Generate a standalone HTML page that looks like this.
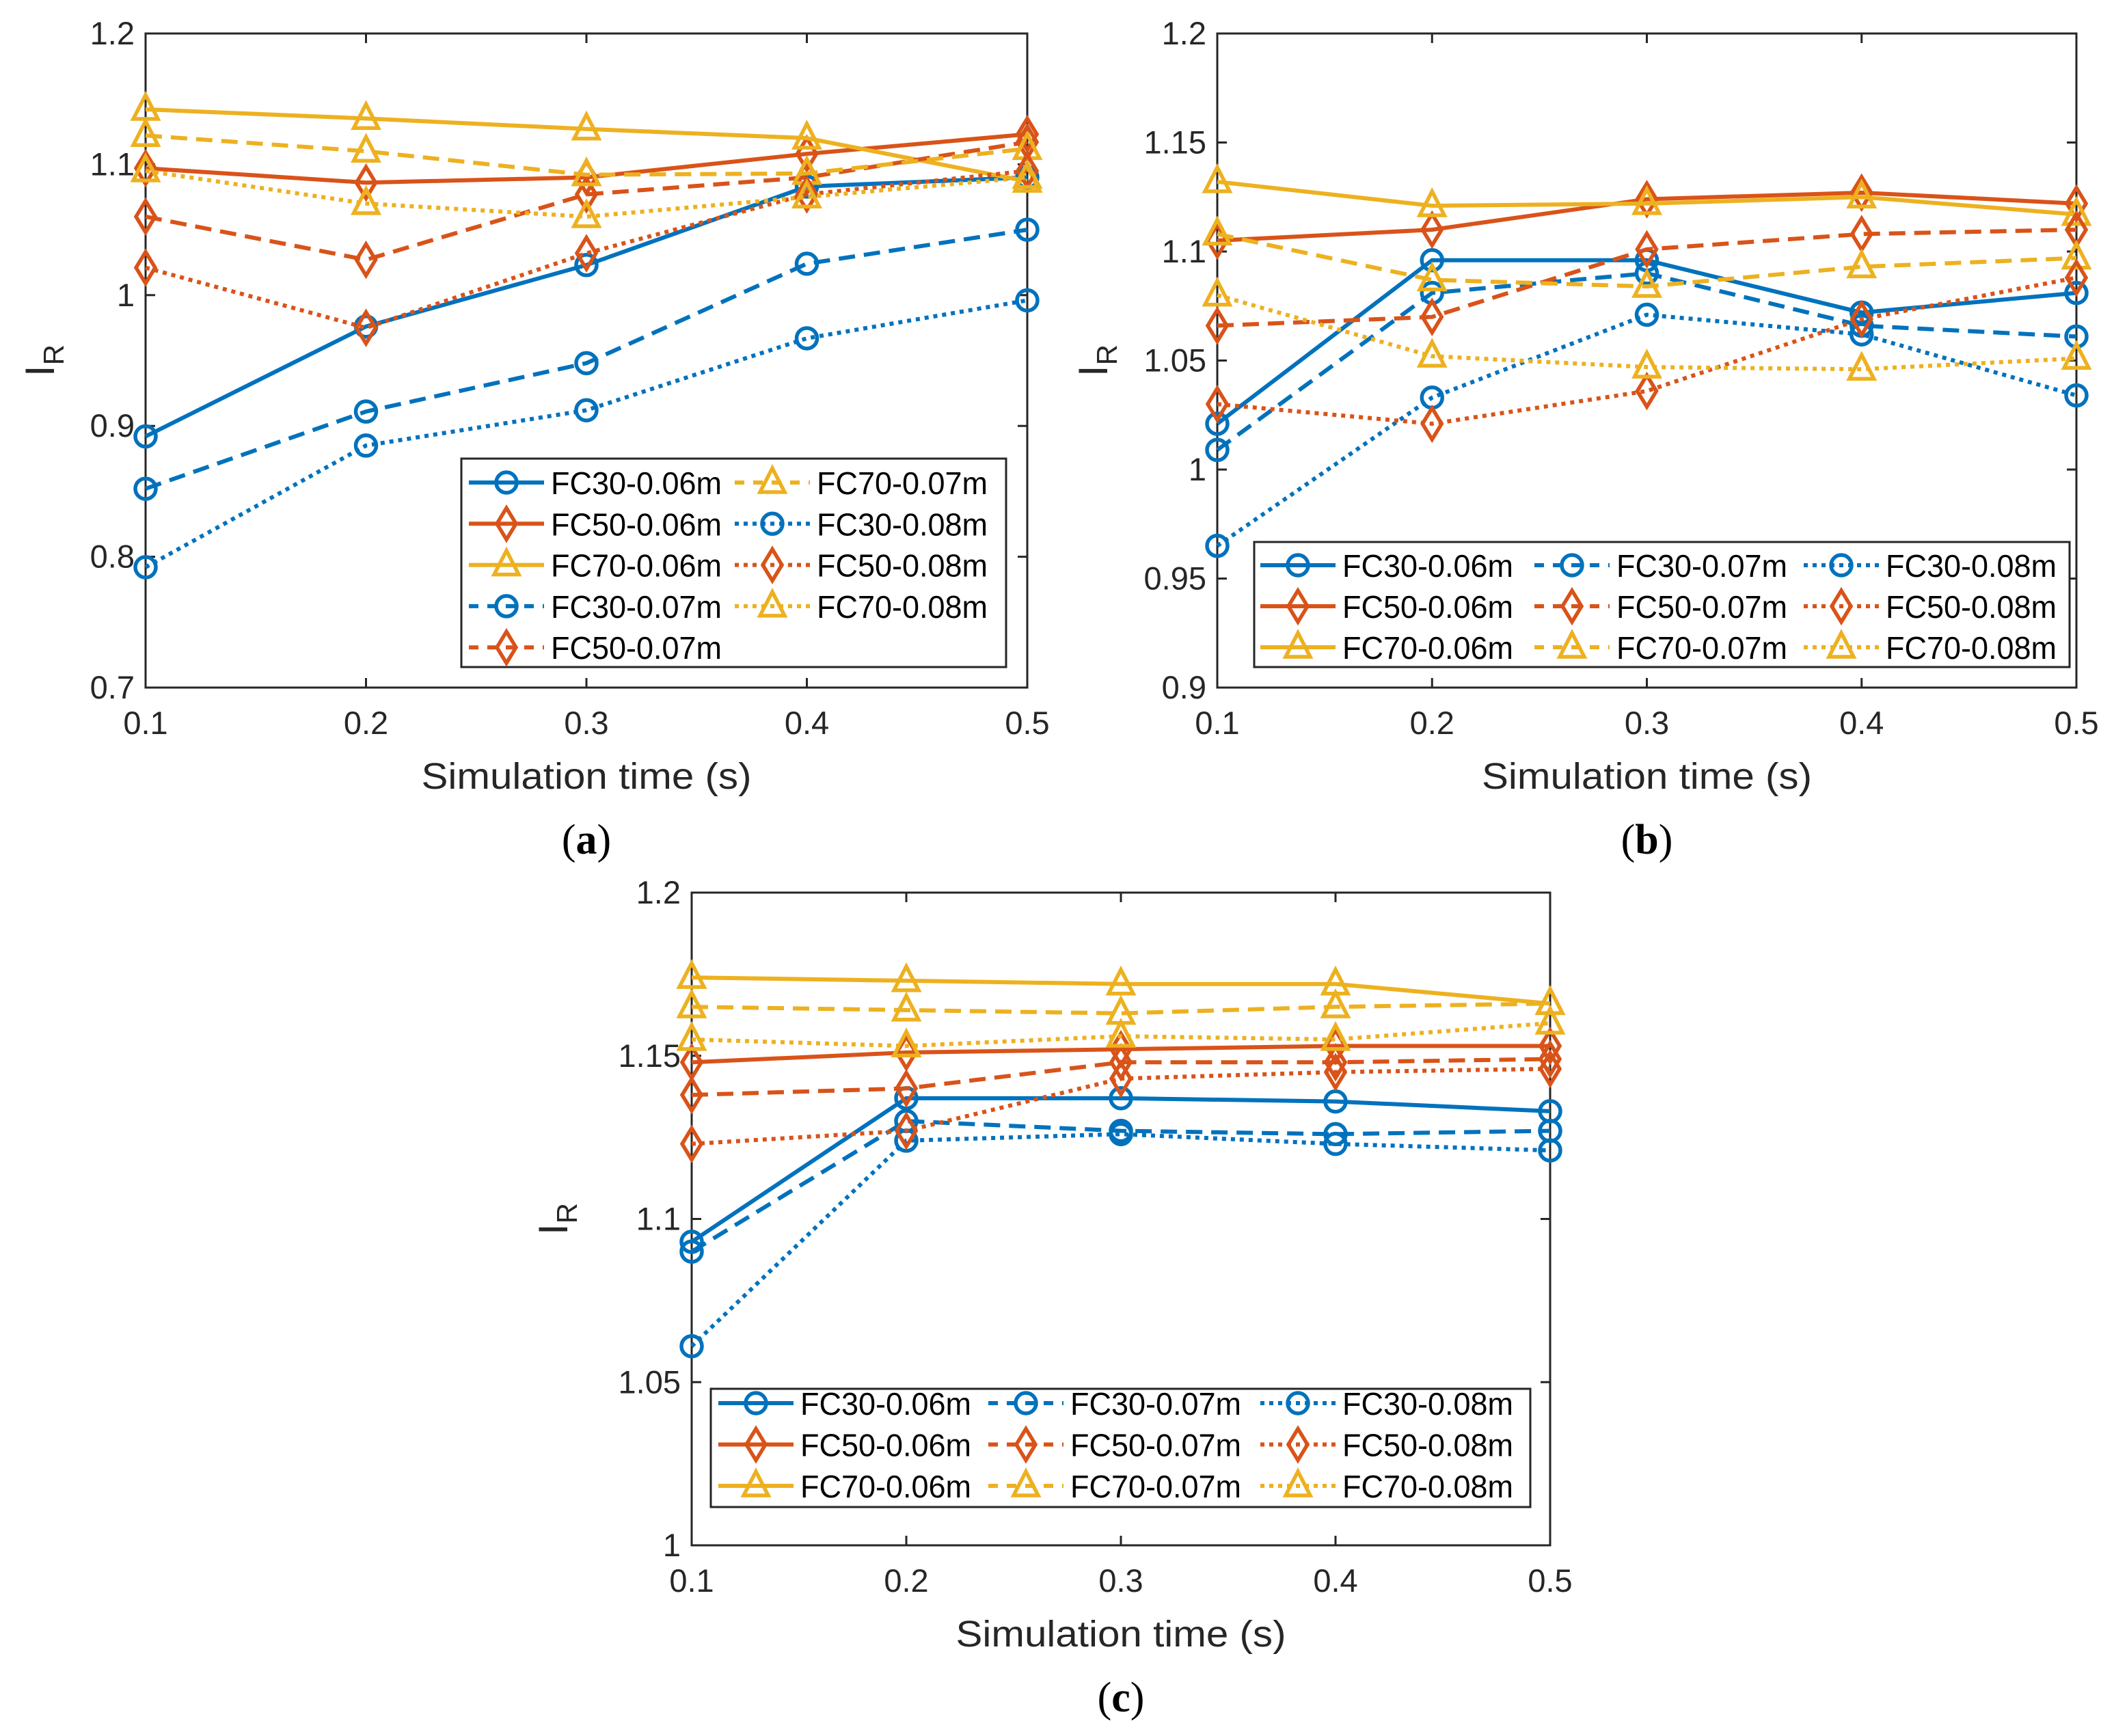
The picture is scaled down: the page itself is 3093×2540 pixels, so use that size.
<!DOCTYPE html>
<html><head><meta charset="utf-8">
<style>
html,body{margin:0;padding:0;background:#fff;overflow:hidden;}
svg{display:block;font-family:"Liberation Sans",sans-serif;}
</style></head>
<body>
<svg id="fig" width="3093" height="2540" viewBox="0 0 3093 2540" xmlns="http://www.w3.org/2000/svg"></svg>
<script>
const categories = [0.1, 0.2, 0.3, 0.4, 0.5];
const seriesNames = ["FC30-0.06m","FC50-0.06m","FC70-0.06m","FC30-0.07m","FC50-0.07m","FC70-0.07m","FC30-0.08m","FC50-0.08m","FC70-0.08m"];
// panel a values
const a_fc30_006 = [0.892,0.976,1.023,1.083,1.090];
const a_fc50_006 = [1.097,1.086,1.090,1.108,1.123];
const a_fc70_006 = [1.142,1.135,1.127,1.120,1.087];
const a_fc30_007 = [0.852,0.911,0.948,1.024,1.050];
const a_fc50_007 = [1.060,1.027,1.077,1.090,1.117];
const a_fc70_007 = [1.122,1.110,1.092,1.093,1.112];
const a_fc30_008 = [0.792,0.885,0.912,0.967,0.996];
const a_fc50_008 = [1.021,0.975,1.032,1.077,1.095];
const a_fc70_008 = [1.095,1.070,1.060,1.075,1.090];
// panel b values
const b_fc30_006 = [1.021,1.096,1.096,1.072,1.081];
const b_fc50_006 = [1.105,1.110,1.124,1.127,1.122];
const b_fc70_006 = [1.132,1.121,1.122,1.125,1.117];
const b_fc30_007 = [1.009,1.081,1.090,1.066,1.061];
const b_fc50_007 = [1.066,1.070,1.101,1.108,1.110];
const b_fc70_007 = [1.108,1.087,1.084,1.093,1.097];
const b_fc30_008 = [0.965,1.033,1.071,1.062,1.034];
const b_fc50_008 = [1.030,1.021,1.036,1.069,1.088];
const b_fc70_008 = [1.080,1.052,1.047,1.046,1.051];
// panel c values
const c_fc30_006 = [1.093,1.137,1.137,1.136,1.133];
const c_fc50_006 = [1.148,1.151,1.152,1.153,1.153];
const c_fc70_006 = [1.174,1.173,1.172,1.172,1.166];
const c_fc30_007 = [1.090,1.130,1.127,1.126,1.127];
const c_fc50_007 = [1.138,1.140,1.148,1.148,1.149];
const c_fc70_007 = [1.165,1.164,1.163,1.165,1.166];
const c_fc30_008 = [1.061,1.124,1.126,1.123,1.121];
const c_fc50_008 = [1.123,1.127,1.143,1.145,1.146];
const c_fc70_008 = [1.155,1.153,1.156,1.155,1.160];
const xTickLabels = ["0.1","0.2","0.3","0.4","0.5"];
const aYTicks = [0.7,0.8,0.9,1.0,1.1,1.2];
const aYTickLabels = ["0.7","0.8","0.9","1","1.1","1.2"];
const bYTicks = [0.9,0.95,1.0,1.05,1.1,1.15,1.2];
const bYTickLabels = ["0.9","0.95","1","1.05","1.1","1.15","1.2"];
const cYTicks = [1.0,1.05,1.1,1.15,1.2];
const cYTickLabels = ["1","1.05","1.1","1.15","1.2"];

const NS="http://www.w3.org/2000/svg";
const svg=document.getElementById('fig');
const COLORS=["#0072BD","#D95319","#EDB120"];
const DASH=[null,"24,13","6,7"];
const MARK=["circle","diamond","triangle"];
function mk(tag,attrs,parent){const e=document.createElementNS(NS,tag);for(const k in attrs)e.setAttribute(k,attrs[k]);(parent||svg).appendChild(e);return e;}
function marker(g,type,x,y,color){
  let e;
  if(type==="circle"){e=mk('circle',{cx:x,cy:y,r:15,fill:'none',stroke:color,'stroke-width':5.5},g);}
  else if(type==="diamond"){e=mk('polygon',{points:`${x},${y-23} ${x+14},${y} ${x},${y+23} ${x-14},${y}`,fill:'none',stroke:color,'stroke-width':5.5},g);}
  else {e=mk('polygon',{points:`${x},${y-21} ${x+18},${y+14} ${x-18},${y+14}`,fill:'none',stroke:color,'stroke-width':5.5},g);}
  
  
}
function panel(id,box,ymin,ymax,yTicks,yLabels,series,legend,caption,ytOff){
  const g=mk('g',{});
  
  
  const xs=v=>box.x0+(v-0.1)/0.4*(box.x1-box.x0);
  const ys=v=>box.y1-(v-ymin)/(ymax-ymin)*(box.y1-box.y0);
  const fr=mk('rect',{x:box.x0,y:box.y0,width:box.x1-box.x0,height:box.y1-box.y0,fill:'#fff',stroke:'#262626','stroke-width':3},g);
  
  
  categories.forEach((c,i)=>{
    const x=xs(c);
    mk('line',{x1:x,y1:box.y1,x2:x,y2:box.y1-14,stroke:'#262626','stroke-width':3},g);
    mk('line',{x1:x,y1:box.y0,x2:x,y2:box.y0+14,stroke:'#262626','stroke-width':3},g);
    const t=mk('text',{x:x,y:box.y1+68,'text-anchor':'middle','font-size':47,fill:'#262626'},g);
    t.textContent=xTickLabels[i];
    
    
  });
  yTicks.forEach((v,i)=>{
    const y=ys(v);
    mk('line',{x1:box.x0,y1:y,x2:box.x0+14,y2:y,stroke:'#262626','stroke-width':3},g);
    mk('line',{x1:box.x1,y1:y,x2:box.x1-14,y2:y,stroke:'#262626','stroke-width':3},g);
    const t=mk('text',{x:box.x0-16,y:y+16,'text-anchor':'end','font-size':47,fill:'#262626'},g);
    t.textContent=yLabels[i];
    
    
  });
  const xl=mk('text',{x:(box.x0+box.x1)/2,y:box.y1+148,'text-anchor':'middle','font-size':54,fill:'#262626',textLength:483,lengthAdjust:'spacingAndGlyphs'},g);
  xl.textContent="Simulation time (s)";
  
  
  const yl=mk('text',{transform:`translate(${box.x0-ytOff+26},${(box.y0+box.y1)/2}) rotate(-90)`,'text-anchor':'middle','font-size':60,fill:'#262626'},g);
  yl.innerHTML='I<tspan font-size="42" dy="14">R</tspan>';
  
  
  series.forEach((vals,si)=>{
    const col=COLORS[si%3], dash=DASH[Math.floor(si/3)], mt=MARK[si%3];
    const sg=mk('g',{},g);
    
    
    const pts=vals.map((v,i)=>xs(categories[i])+','+ys(v)).join(' ');
    const pl=mk('polyline',{points:pts,fill:'none',stroke:col,'stroke-width':6},sg);
    if(dash)pl.setAttribute('stroke-dasharray',dash);
    
    
    vals.forEach((v,i)=>marker(sg,mt,xs(categories[i]),ys(v),col));
  });
  const lg=mk('g',{},g);
  
  
  mk('rect',{x:legend.x,y:legend.y,width:legend.w,height:legend.h,fill:'#fff',stroke:'#262626','stroke-width':3},lg);
  seriesNames.forEach((n,si)=>{
    const pos=legend.pos(si);
    const col=COLORS[si%3], dash=DASH[Math.floor(si/3)];
    const eg=mk('g',{},lg);
    
    
    const ln=mk('line',{x1:pos.x,y1:pos.y,x2:pos.x+110,y2:pos.y,stroke:col,'stroke-width':6},eg);
    if(dash)ln.setAttribute('stroke-dasharray',dash==="24,13"?"14,13":dash);
    marker(eg,MARK[si%3],pos.x+55,pos.y,col);
    const t=mk('text',{x:pos.x+120,y:pos.y+17,'font-size':46,fill:'#000',textLength:250,lengthAdjust:'spacingAndGlyphs'},eg);
    t.textContent=n;
  });
  const cap=mk('text',{x:(box.x0+box.x1)/2,y:box.y1+243,'text-anchor':'middle','font-size':62,'font-family':'Liberation Serif, serif',fill:'#000'},g);
  cap.innerHTML='(<tspan font-weight="bold">'+caption+'</tspan>)';
  
  
}
panel('a',{x0:213,x1:1503,y0:49,y1:1006},0.7,1.2,aYTicks,aYTickLabels,
  [a_fc30_006,a_fc50_006,a_fc70_006,a_fc30_007,a_fc50_007,a_fc70_007,a_fc30_008,a_fc50_008,a_fc70_008],
  {x:675,y:671,w:797,h:305,pos:si=>{const k=si;return k<5?{x:686,y:706+k*60.3}:{x:1075,y:706+(k-5)*60.3};}},'a',160);
panel('b',{x0:1781,x1:3038,y0:49,y1:1006},0.9,1.2,bYTicks,bYTickLabels,
  [b_fc30_006,b_fc50_006,b_fc70_006,b_fc30_007,b_fc50_007,b_fc70_007,b_fc30_008,b_fc50_008,b_fc70_008],
  {x:1835,y:793,w:1193,h:183,pos:si=>({x:[1844,2245,2639][Math.floor(si/3)],y:827+(si%3)*60})},'b',187);
panel('c',{x0:1012,x1:2268,y0:1306,y1:2261},1.0,1.2,cYTicks,cYTickLabels,
  [c_fc30_006,c_fc50_006,c_fc70_006,c_fc30_007,c_fc50_007,c_fc70_007,c_fc30_008,c_fc50_008,c_fc70_008],
  {x:1040,y:2032,w:1199,h:173,pos:si=>({x:[1051,1446,1844][Math.floor(si/3)],y:2053+(si%3)*60.5})},'c',208);
</script>
</body></html>
